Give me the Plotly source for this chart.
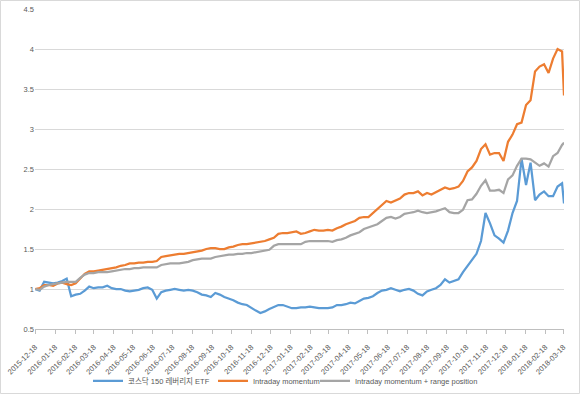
import pandas as pd
import plotly.graph_objects as go

# Weekly (Friday) observation dates plus the final trading day shown
dates = list(pd.date_range("2015-12-18", "2018-03-16", freq="7D").strftime("%Y-%m-%d")) + ["2018-03-19"]

kosdaq_lev = [
    1.00, 0.98, 1.09, 1.08, 1.07, 1.08, 1.10, 1.13, 0.91, 0.93,
    0.94, 0.98, 1.03, 1.01, 1.02, 1.02, 1.04, 1.01, 1.00, 1.00,
    0.98, 0.97, 0.98, 0.99, 1.01, 1.02, 0.99, 0.88, 0.96, 0.98,
    0.99, 1.00, 0.99, 0.98, 0.99, 0.98, 0.96, 0.93, 0.92, 0.90,
    0.95, 0.93, 0.90, 0.88, 0.86, 0.83, 0.81, 0.80, 0.76, 0.73,
    0.70, 0.72, 0.75, 0.78, 0.80, 0.80, 0.78, 0.76, 0.76, 0.77,
    0.77, 0.78, 0.77, 0.76, 0.76, 0.76, 0.77, 0.80, 0.80, 0.81,
    0.83, 0.82, 0.85, 0.88, 0.89, 0.91, 0.95, 0.98, 0.99, 1.01,
    0.99, 0.97, 0.99, 1.00, 0.98, 0.94, 0.92, 0.97, 0.99, 1.01,
    1.05, 1.12, 1.08, 1.10, 1.12, 1.21, 1.29, 1.37, 1.44, 1.60,
    1.95, 1.82, 1.67, 1.63, 1.58, 1.73, 1.95, 2.10, 2.63, 2.30,
    2.58, 2.11, 2.18, 2.22, 2.16, 2.16, 2.28, 2.32, 2.07,
]

intraday = [
    1.00, 1.01, 1.05, 1.05, 1.04, 1.07, 1.08, 1.06, 1.05, 1.07,
    1.13, 1.19, 1.22, 1.22, 1.23, 1.24, 1.25, 1.26, 1.27, 1.29,
    1.30, 1.32, 1.32, 1.33, 1.33, 1.34, 1.34, 1.35, 1.40, 1.41,
    1.42, 1.43, 1.44, 1.44, 1.45, 1.46, 1.47, 1.48, 1.50, 1.51,
    1.51, 1.50, 1.50, 1.52, 1.53, 1.55, 1.56, 1.56, 1.57, 1.58,
    1.59, 1.60, 1.62, 1.64, 1.69, 1.70, 1.70, 1.71, 1.72, 1.69,
    1.70, 1.72, 1.74, 1.73, 1.73, 1.74, 1.73, 1.76, 1.78, 1.81,
    1.83, 1.85, 1.89, 1.90, 1.90, 1.95, 2.00, 2.04, 2.10, 2.08,
    2.11, 2.13, 2.18, 2.20, 2.20, 2.22, 2.17, 2.20, 2.18, 2.21,
    2.23, 2.27, 2.25, 2.26, 2.28, 2.35, 2.47, 2.52, 2.60, 2.75,
    2.81, 2.68, 2.70, 2.70, 2.60, 2.84, 2.93, 3.06, 3.08, 3.30,
    3.36, 3.72, 3.78, 3.81, 3.70, 3.88, 4.00, 3.97, 3.42,
]

intraday_range = [
    1.00, 0.99, 1.03, 1.05, 1.06, 1.07, 1.08, 1.09, 1.09, 1.09,
    1.14, 1.18, 1.20, 1.20, 1.21, 1.21, 1.21, 1.22, 1.23, 1.24,
    1.25, 1.25, 1.26, 1.26, 1.27, 1.27, 1.27, 1.27, 1.30, 1.31,
    1.32, 1.32, 1.32, 1.33, 1.34, 1.36, 1.37, 1.38, 1.38, 1.38,
    1.40, 1.41, 1.42, 1.43, 1.43, 1.44, 1.44, 1.45, 1.45, 1.46,
    1.47, 1.48, 1.49, 1.54, 1.56, 1.56, 1.56, 1.56, 1.56, 1.56,
    1.59, 1.60, 1.60, 1.60, 1.60, 1.60, 1.59, 1.61, 1.62, 1.64,
    1.67, 1.69, 1.71, 1.75, 1.77, 1.79, 1.81, 1.85, 1.89, 1.90,
    1.88, 1.90, 1.94, 1.95, 1.96, 1.98, 1.96, 1.95, 1.96, 1.97,
    1.99, 2.01, 1.96, 1.95, 1.95, 1.99, 2.11, 2.12, 2.19, 2.29,
    2.36, 2.23, 2.23, 2.24, 2.20, 2.37, 2.42, 2.54, 2.63, 2.63,
    2.62, 2.58, 2.54, 2.57, 2.53, 2.66, 2.70, 2.80, 2.83,
]

series_names = ["코스닥 150 레버리지 ETF", "Intraday momentum", "Intraday momentum + range position"]
series_colors = ["#5B9BD5", "#ED7D31", "#A5A5A5"]
legend_ids = ["legend", "legend2", "legend3"]
legend_x = [0.1002, 0.3365, 0.5293]

FONT = "Liberation Sans, Noto Sans CJK KR, sans-serif"
TXT = "#595959"

fig = go.Figure()
for name, vals, col, lid in zip(series_names, [kosdaq_lev, intraday, intraday_range], series_colors, legend_ids):
    fig.add_trace(go.Scatter(x=dates, y=vals, mode="lines", name=name, legend=lid,
                             line=dict(color=col, width=2.25)))

legend_common = dict(orientation="h", xanchor="left", yref="container", y=0.033, yanchor="middle",
                     font=dict(family=FONT, size=7.5, color=TXT), bgcolor="rgba(0,0,0,0)", borderwidth=0)

fig.update_layout(
    width=580, height=394,
    margin=dict(l=35, r=16, t=9, b=65),
    paper_bgcolor="white", plot_bgcolor="white",
    font=dict(family=FONT, size=7.5, color=TXT),
    showlegend=True,
    legend=dict(x=legend_x[0], **legend_common),
    legend2=dict(x=legend_x[1], **legend_common),
    legend3=dict(x=legend_x[2], **legend_common),
    xaxis=dict(type="date", range=["2015-12-17 18:00", "2018-03-19"],
               tick0="2015-12-18", dtick="M1", tickformat="%Y-%m-%d", tickangle=-45,
               showgrid=False, showline=True, linecolor="#BFBFBF", linewidth=1,
               ticks="outside", ticklen=4, tickcolor="#BFBFBF", zeroline=False,
               ticklabeloverflow="allow", ticklabelstandoff=6,
               tickfont=dict(family=FONT, size=7.5, color=TXT), automargin=False),
    yaxis=dict(range=[0.5, 4.5], tick0=0.5, dtick=0.5, showgrid=True, gridcolor="#D9D9D9",
               gridwidth=1, zeroline=False, showline=False, ticks="",
               tickfont=dict(family=FONT, size=7.5, color=TXT), automargin=False),
    shapes=[dict(type="rect", xref="paper", yref="paper",
                 x0=-0.0652, x1=1.0293, y0=-0.2016, y1=1.0266,
                 line=dict(color="#D9D9D9", width=1), fillcolor="rgba(0,0,0,0)", layer="below")],
)

fig.write_html("out.html", post_script="document.body.style.margin='0';",
               config={"displayModeBar": False})
